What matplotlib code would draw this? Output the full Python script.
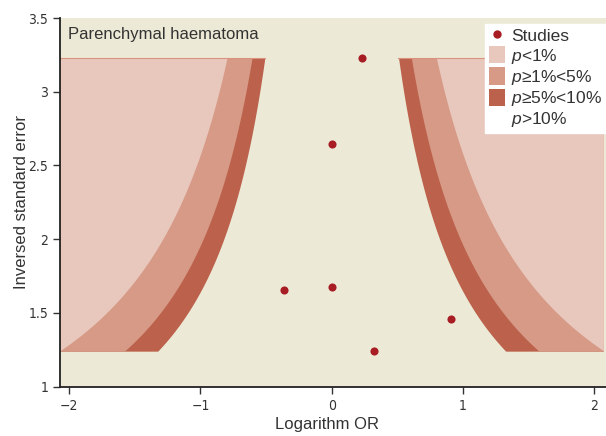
import numpy as np
import matplotlib
matplotlib.use("Agg")
import matplotlib.pyplot as plt
from matplotlib.patches import Patch
from matplotlib.lines import Line2D

# Data
log_or = [0.228, 0.0, -0.363, 0.0, 0.909, 0.322]
precision = [3.232, 2.648, 1.657, 1.678, 1.458, 1.241]
z_levels = [1.645, 1.96, 2.576]  # 10%, 5%, 1%
legend_labels = ["Studies", "$p$<1%", "$p$≥1%<5%", "$p$≥5%<10%", "$p$>10%"]
xticks = [-2, -1, 0, 1, 2]
xtick_labels = ["−2", "−1", "0", "1", "2"]
yticks = [1, 1.5, 2, 2.5, 3, 3.5]
ytick_labels = ["1", "1.5", "2", "2.5", "3", "3.5"]

bg = "#ece9d6"
c_dark = "#bc614b"
c_med = "#d69a86"
c_light = "#e8c8bd"
c_pt = "#a81c24"
txt = "#333333"

plt.rcParams['font.family'] = ['Liberation Sans', 'DejaVu Sans']
plt.rcParams['mathtext.fontset'] = 'custom'
plt.rcParams['mathtext.it'] = 'Liberation Sans:italic'
plt.rcParams['mathtext.rm'] = 'Liberation Sans'

fig = plt.figure(figsize=(6.06, 4.36), dpi=100)
ax = fig.add_axes([60/606, 1 - 386.7/436, 546/606, (386.7-18)/436])
ax.set_facecolor(bg)

xmin, xmax = -2.07, 2.09
shade_edge = 2.07
ymin_s, ymax_s = min(precision), max(precision)
yy = np.linspace(ymin_s, ymax_s, 300)

for z, col in zip(z_levels, [c_dark, c_med, c_light]):
    bound = np.minimum(z / yy, shade_edge)
    ax.fill_betweenx(yy, -shade_edge, -bound, color=col, lw=0, zorder=1)
    ax.fill_betweenx(yy, bound, shade_edge, color=col, lw=0, zorder=1)
ax.plot([-shade_edge, -z_levels[0]/ymax_s], [ymax_s, ymax_s], color="#d9937f", lw=0.8, zorder=1.5)
ax.plot([z_levels[0]/ymax_s, shade_edge], [ymax_s, ymax_s], color="#d9937f", lw=0.8, zorder=1.5)

ax.scatter(log_or, precision, s=34, color=c_pt, zorder=3, linewidths=0)

ax.set_xlim(xmin, xmax)
ax.set_ylim(1, 3.5)
ax.set_xticks(xticks)
ax.set_xticklabels(xtick_labels)
ax.set_yticks(yticks)
ax.set_yticklabels(ytick_labels)
ax.tick_params(colors=txt, labelsize=10.5, length=5, width=1)
for lab in ax.get_xticklabels() + ax.get_yticklabels():
    lab.set_fontstretch('condensed')
    lab.set_family(['DejaVu Sans'])
    lab.set_fontsize(10)
for s in ["top", "right"]:
    ax.spines[s].set_visible(False)
for s in ["left", "bottom"]:
    ax.spines[s].set_linewidth(1.3)
    ax.spines[s].set_color("#222222")

ax.set_xlabel("Logarithm OR", fontsize=12, color=txt)
ax.set_ylabel("Inversed standard error", fontsize=12, color=txt)
ax.xaxis.set_label_coords(0.489, -0.082)
ax.yaxis.set_label_coords(-0.057, 0.5)

ax.text(0.015, 0.975, "Parenchymal haematoma", transform=ax.transAxes, fontsize=12,
        color=txt, va="top", ha="left")

handles = [
    Line2D([0], [0], marker="o", color="none", markerfacecolor=c_pt, markeredgecolor="none", markersize=6),
    Patch(facecolor=c_light, edgecolor="none"),
    Patch(facecolor=c_med, edgecolor="none"),
    Patch(facecolor=c_dark, edgecolor="none"),
    Patch(facecolor="white", edgecolor="none"),
]
leg = ax.legend(handles, legend_labels, loc="upper right", bbox_to_anchor=(1.0, 0.985),
                frameon=True, fancybox=False, framealpha=1, edgecolor="white",
                handlelength=0.95, handleheight=1.15, handletextpad=0.35,
                labelspacing=0.1, borderpad=0.2, borderaxespad=0.0,
                prop={'family': ['Liberation Sans', 'DejaVu Sans'], 'size': 12.5})
for t in leg.get_texts():
    t.set_color(txt)

fig.savefig("out.png", dpi=100, facecolor="white")
